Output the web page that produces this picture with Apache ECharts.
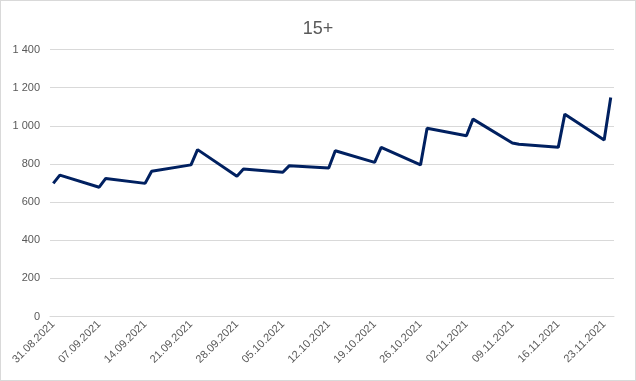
<!DOCTYPE html>
<html>
<head>
<meta charset="utf-8">
<script src="https://cdn.jsdelivr.net/npm/echarts@6/dist/echarts.min.js"></script>
<style>
html,body{margin:0;padding:0;background:#fff;}
#c{width:636px;height:381px;box-sizing:border-box;border:1px solid #d9d9d9;}
</style>
</head>
<body>
<div id="c"></div>
<script>
// Data points (dd.mm.yyyy) and values
const pointDates = [
  '31.08.2021','01.09.2021','07.09.2021','08.09.2021','14.09.2021','15.09.2021',
  '21.09.2021','22.09.2021','28.09.2021','29.09.2021','05.10.2021','06.10.2021',
  '12.10.2021','13.10.2021','19.10.2021','20.10.2021','26.10.2021','27.10.2021',
  '02.11.2021','03.11.2021','09.11.2021','10.11.2021','16.11.2021','17.11.2021',
  '23.11.2021','24.11.2021'
];
const pointValues = [
  698, 741, 678, 724, 698, 762,
  795, 875, 736, 774, 756, 791,
  779, 869, 808, 887, 795, 987,
  948, 1035, 910, 903, 887, 1061,
  925, 1148
];
const axisStart = '31.08.2021';
const axisEnd = '24.11.2021';
const yTicks = { min: 0, max: 1400, interval: 200 };

function parse(s){const [d,m,y]=s.split('.').map(Number);return new Date(Date.UTC(y,m-1,d));}
function fmt(dt){const d=String(dt.getUTCDate()).padStart(2,'0');const m=String(dt.getUTCMonth()+1).padStart(2,'0');return d+'.'+m+'.'+dt.getUTCFullYear();}
const categories=[];
for(let t=parse(axisStart).getTime();t<=parse(axisEnd).getTime();t+=86400000){categories.push(fmt(new Date(t)));}
const lookup={};pointDates.forEach((d,i)=>lookup[d]=pointValues[i]);
const seriesData=categories.map(c=>lookup[c]!==undefined?lookup[c]:null);

const chart=echarts.init(document.getElementById('c'),null,{renderer:'canvas'});
chart.setOption({
  animation:false,
  title:{text:'15+',left:'center',top:14,textStyle:{color:'#595959',fontSize:18,fontWeight:'normal',fontFamily:'Liberation Sans'}},
  grid:{left:49,right:21,top:48.5,bottom:63.5,containLabel:false},
  xAxis:{type:'category',data:categories,boundaryGap:true,
    axisLine:{lineStyle:{color:'#d9d9d9'}},axisTick:{show:false},
    axisLabel:{interval:6,rotate:45,color:'#595959',fontSize:11,fontFamily:'Liberation Sans',margin:6}},
  yAxis:{type:'value',min:yTicks.min,max:yTicks.max,interval:yTicks.interval,
    axisLine:{show:false},axisTick:{show:false},
    splitLine:{lineStyle:{color:'#d9d9d9'}},
    axisLabel:{color:'#595959',fontSize:11,fontFamily:'Liberation Sans',margin:10,
      formatter:v=>String(v).replace(/\B(?=(\d{3})+(?!\d))/g,' ')}},
  series:[{type:'line',data:seriesData,connectNulls:true,showSymbol:false,symbol:'none',
    lineStyle:{color:'#002060',width:3},itemStyle:{color:'#002060'}}]
});
</script>
</body>
</html>
